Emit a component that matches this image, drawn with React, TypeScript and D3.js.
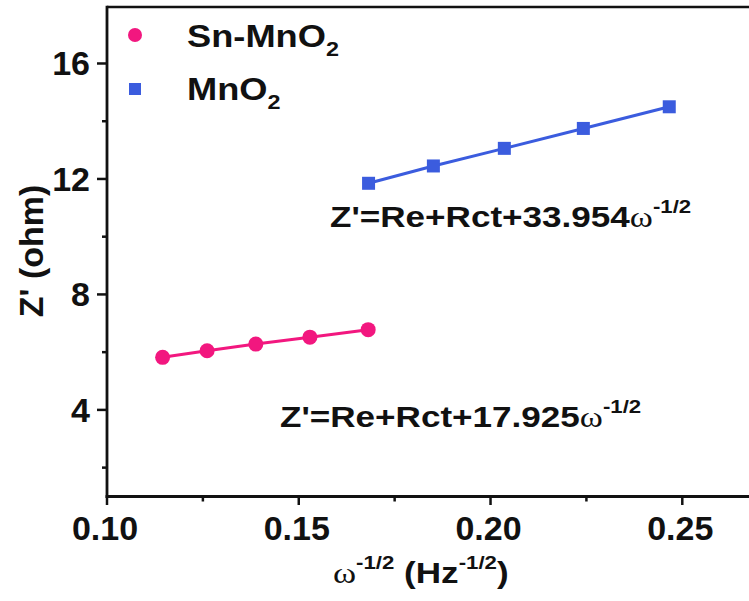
import React from "react";
import * as d3 from "d3";

const snX = [0.1145, 0.1261, 0.1388, 0.1529, 0.1681];
const snY = [5.82, 6.05, 6.28, 6.52, 6.78];
const mnX = [0.1682, 0.1851, 0.2036, 0.2242, 0.2466];
const mnY = [11.85, 12.45, 13.06, 13.75, 14.5];
const xTicks = [0.1, 0.15, 0.2, 0.25];
const xMinor = [0.125, 0.175, 0.225];
const yTicks = [4, 8, 12, 16];
const yMinor = [2, 6, 10, 14];

const PINK = "#F2177F";
const BLUE = "#3B5CDE";
const SANS = "'Liberation Sans', Arial, sans-serif";
const SERIF = "'Liberation Serif', 'Times New Roman', serif";

export default function App() {
  const x = d3.scaleLinear().domain([0.1, 0.27]).range([107, 759]);
  const y = d3.scaleLinear().domain([1, 18]).range([496.5, 5.75]);
  const line = d3
    .line<[number, number]>()
    .x((d) => x(d[0]))
    .y((d) => y(d[1]));
  const sn = snX.map((v, i) => [v, snY[i]] as [number, number]);
  const mn = mnX.map((v, i) => [v, mnY[i]] as [number, number]);
  const sx = 1.17;

  const eq = (tx: number, ty: number, coef: string) => (
    <g transform={`translate(${tx},${ty}) scale(${sx},1)`}>
      <text x={0} y={0} fontFamily={SANS} fontWeight="bold" fontSize={30} fill="#111">
        {`Z'=Re+Rct+${coef}`}
        <tspan fontFamily={SERIF} fontWeight="normal" fontSize={30}>ω</tspan>
        <tspan fontSize={19} dy={-14}>-1/2</tspan>
      </text>
    </g>
  );

  return (
    <svg
      width={749}
      height={601}
      style={{ position: "absolute", left: 0, top: 0, background: "#fff" }}
    >
      <rect width={749} height={601} fill="#fff" />
      {/* frame */}
      <line x1={107} x2={760} y1={7} y2={7} stroke="#111" strokeWidth={2.5} />
      <line x1={107} x2={107} y1={5.75} y2={497.8} stroke="#111" strokeWidth={2.8} />
      <line x1={105.6} x2={760} y1={496.5} y2={496.5} stroke="#111" strokeWidth={2.8} />
      {/* y ticks */}
      {yTicks.map((t) => (
        <g key={"yt" + t}>
          <line x1={97} x2={107} y1={y(t)} y2={y(t)} stroke="#111" strokeWidth={2.5} />
          <text
            x={90}
            y={y(t) + 12}
            textAnchor="end"
            fontFamily={SANS}
            fontWeight="bold"
            fontSize={34}
            fill="#111"
          >
            {t}
          </text>
        </g>
      ))}
      {yMinor.map((t) => (
        <line key={"ym" + t} x1={102} x2={107} y1={y(t)} y2={y(t)} stroke="#111" strokeWidth={2.5} />
      ))}
      {/* x ticks */}
      {xTicks.map((t) => (
        <g key={"xt" + t}>
          <line x1={x(t)} x2={x(t)} y1={496.5} y2={505} stroke="#111" strokeWidth={2.5} />
          <text
            x={x(t) - 2}
            y={540}
            textAnchor="middle"
            fontFamily={SANS}
            fontWeight="bold"
            fontSize={34}
            fill="#111"
          >
            {t.toFixed(2)}
          </text>
        </g>
      ))}
      {xMinor.map((t) => (
        <line key={"xm" + t} x1={x(t)} x2={x(t)} y1={496.5} y2={501.5} stroke="#111" strokeWidth={2.5} />
      ))}
      {/* series */}
      <path d={line(sn) || ""} fill="none" stroke={PINK} strokeWidth={3} />
      {sn.map((d, i) => (
        <circle key={"s" + i} cx={x(d[0])} cy={y(d[1])} r={7.5} fill={PINK} />
      ))}
      <path d={line(mn) || ""} fill="none" stroke={BLUE} strokeWidth={3} />
      {mn.map((d, i) => (
        <rect key={"m" + i} x={x(d[0]) - 6.5} y={y(d[1]) - 6.5} width={13} height={13} fill={BLUE} />
      ))}
      {/* legend */}
      <circle cx={135} cy={35} r={7} fill={PINK} />
      <rect x={129} y={83} width={12} height={12} fill={BLUE} />
      <g transform={`translate(187,46.5) scale(${sx},1)`}>
        <text fontFamily={SANS} fontWeight="bold" fontSize={31} fill="#111">
          Sn-MnO<tspan fontSize={20} dy={9}>2</tspan>
        </text>
      </g>
      <g transform={`translate(187,100) scale(${sx},1)`}>
        <text fontFamily={SANS} fontWeight="bold" fontSize={31} fill="#111">
          MnO<tspan fontSize={20} dy={9}>2</tspan>
        </text>
      </g>
      {/* equations */}
      {eq(330, 227, "33.954")}
      {eq(280, 427, "17.925")}
      {/* y label */}
      <text
        transform="translate(43,251) rotate(-90)"
        textAnchor="middle"
        fontFamily={SANS}
        fontWeight="bold"
        fontSize={34}
        fill="#111"
      >
        Z' (ohm)
      </text>
      {/* x label */}
      <g transform={`translate(333,583) scale(${sx},1)`}>
        <text x={0} y={0} fontFamily={SANS} fontWeight="bold" fontSize={30} fill="#111">
          <tspan fontFamily={SERIF} fontWeight="normal">ω</tspan>
          <tspan fontSize={19} dy={-14}>-1/2</tspan>
          <tspan dy={14}> (Hz</tspan>
          <tspan fontSize={19} dy={-14}>-1/2</tspan>
          <tspan dy={14}>)</tspan>
        </text>
      </g>
    </svg>
  );
}
